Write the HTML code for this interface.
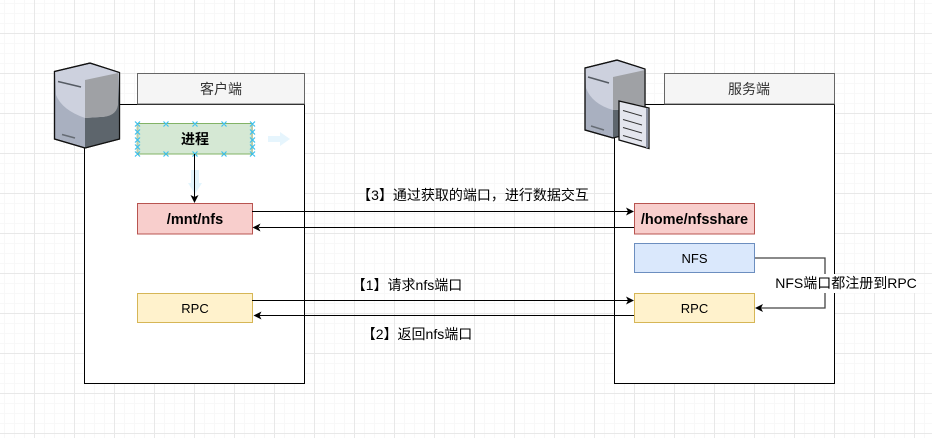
<!DOCTYPE html>
<html><head><meta charset="utf-8">
<style>
html,body{margin:0;padding:0;background:#fff;width:932px;height:438px;overflow:hidden}
svg{display:block}
text{font-family:"Liberation Sans","WenQuanYi Zen Hei","Noto Sans CJK SC",sans-serif;font-size:14px;fill:#000;text-anchor:middle}
.l{font-size:13px}
.b{font-weight:bold;font-size:14.500px}
</style></head><body>
<svg width="932" height="438" viewBox="0 0 932 438" xmlns="http://www.w3.org/2000/svg">
<defs>
<pattern id="minor" width="10" height="10" patternUnits="userSpaceOnUse" x="4" y="3"><path d="M0.500 0V10M0 0.500H10" stroke="#f8f8f8" stroke-width="1" fill="none"/></pattern>
<pattern id="major" width="40" height="40" patternUnits="userSpaceOnUse" x="34" y="33"><path d="M0.500 0V40M0 0.500H40" stroke="#e8e8e8" stroke-width="1" fill="none"/></pattern>
</defs>
<rect width="932" height="438" fill="#fff"/>
<rect width="932" height="438" fill="url(#minor)"/>
<rect width="932" height="438" fill="url(#major)"/>

<!-- containers -->
<rect x="84.500" y="104.500" width="220" height="279" fill="#fff" stroke="#000"/>
<rect x="137.500" y="73.500" width="167" height="30.500" fill="#f5f5f5" stroke="#666"/>
<text x="221" y="94" style="fill:#333">客户端</text>
<rect x="614.500" y="104.500" width="220" height="279" fill="#fff" stroke="#000"/>
<rect x="664.500" y="73.500" width="170" height="30.500" fill="#f5f5f5" stroke="#666"/>
<text x="749" y="94" style="fill:#333">服务端</text>

<!-- client server icon -->
<g>
<path d="M54.500 71.500L90 63L119.500 72.500V139L85 148L54.500 139Z" fill="#a9b0c0" stroke="#111" stroke-width="1.200"/>
<path d="M85 80L119 72.500V139L85 148Z" fill="#5d656c"/>
<path d="M55 72L90 64L119 72.500L118 100Q116 117 100 117L85 118Q62 110 56 95Z" fill="#cdd1de"/>
<path d="M85 80L118 73L118 105Q116 117 100 117L85 118Z" fill="#9fa1a5"/>
<path d="M54.500 71.500L90 63L119.500 72.500V139L85 148L54.500 139Z" fill="none" stroke="#111" stroke-width="1.200"/>
<path d="M58 81.500L81 87" stroke="#555b63" stroke-width="1.500"/>
<path d="M62 134.500L75 138" stroke="#666c74" stroke-width="1.500"/>
</g>

<!-- server icon -->
<g>
<path d="M585 68L617 60L645 69V120L613 138L585 130Z" fill="#a9b0c0" stroke="#111" stroke-width="1.200"/>
<path d="M613 77L645 69V130L613 138Z" fill="#5d656c"/>
<path d="M585.500 68.500L617 61L645 69.500V109L613 110Q592 104 586 88Z" fill="#cdd1de"/>
<path d="M613 77L645 70V109L613 110Z" fill="#9fa1a5"/>
<path d="M585 68L617 60L645 69V130L613 138L585 130Z" fill="none" stroke="#111" stroke-width="1.200"/>
<path d="M588 77L609 83" stroke="#555b63" stroke-width="1.500"/>
<path d="M591 126L604 130" stroke="#666c74" stroke-width="1.500"/>
<path d="M619 101L649 108V148.500L619 140Z" fill="#e4e6ee" stroke="#111" stroke-width="1.300"/>
<path d="M647 108V148" stroke="#8a90a0" stroke-width="2"/>
<path d="M623 110.500L642 116M623 119.500L642 125M623 127.500L642 133M623 135.500L642 141" stroke="#333" stroke-width="1"/>
</g>

<!-- ghost arrows -->
<path d="M268 136H280V132L290 139L280 146V142H268Z" fill="#e6f5fd"/>
<path d="M191 170H199V183H202L195 194L188 183H191Z" fill="#e3f5fd"/>

<!-- process box -->
<rect x="137.500" y="123.500" width="115" height="30.500" fill="#d5e8d4" stroke="#82b366"/>
<path d="M137.500 124V153M252 124V153" stroke="#b8ccaa" stroke-width="2"/>
<text x="195" y="144" style="font-weight:bold">进程</text>
<g stroke="#3cc0ee" stroke-width="1.200" fill="none">
<path d="M135 121.500l5 5m0-5l-5 5M163.500 121.500l5 5m0-5l-5 5M192.500 121.500l5 5m0-5l-5 5M221.500 121.500l5 5m0-5l-5 5M250 121.500l5 5m0-5l-5 5"/>
<path d="M135 151.500l5 5m0-5l-5 5M163.500 151.500l5 5m0-5l-5 5M192.500 151.500l5 5m0-5l-5 5M221.500 151.500l5 5m0-5l-5 5M250 151.500l5 5m0-5l-5 5"/>
<path d="M135 129.500l5 5m0-5l-5 5M135 137.500l5 5m0-5l-5 5M135 144.500l5 5m0-5l-5 5M250 129.500l5 5m0-5l-5 5M250 137.500l5 5m0-5l-5 5M250 144.500l5 5m0-5l-5 5"/>
</g>

<!-- boxes -->
<rect x="137.500" y="203.500" width="115" height="30.500" fill="#f8cecc" stroke="#b85450"/>
<text class="b" x="195" y="224">/mnt/nfs</text>
<rect x="634.500" y="203.500" width="120" height="30.500" fill="#f8cecc" stroke="#b85450"/>
<text class="b" x="694.500" y="224">/home/nfsshare</text>
<rect x="634.500" y="243.500" width="120" height="29" fill="#dae8fc" stroke="#6c8ebf"/>
<text class="l" x="694.500" y="263">NFS</text>
<rect x="137.500" y="293.500" width="115" height="29" fill="#fff2cc" stroke="#d6b656"/>
<text class="l" x="195" y="313">RPC</text>
<rect x="634.500" y="293.500" width="120" height="29" fill="#fff2cc" stroke="#d6b656"/>
<text class="l" x="694.500" y="313">RPC</text>

<!-- connectors -->
<g stroke="#000" stroke-width="1" fill="none">
<path d="M194.500 154V197"/>
<path d="M252 211.500H628"/>
<path d="M634 227.500H259"/>
<path d="M252 300.500H628"/>
<path d="M634 315.500H259"/>
</g>
<path d="M755 258H825V308H761" stroke="#444" stroke-width="1.300" fill="none"/>
<g fill="#000">
<path d="M194.500 203L190.500 195L194.500 197L198.500 195Z"/>
<path d="M634 211.500L626 207.500L628 211.500L626 215.500Z"/>
<path d="M252.500 227.500L260.500 223.500L258.500 227.500L260.500 231.500Z"/>
<path d="M634 300.500L626 296.500L628 300.500L626 304.500Z"/>
<path d="M253.500 315.500L261.500 311.500L259.500 315.500L261.500 319.500Z"/>
<path d="M755 308L763 304L761 308L763 312Z"/>
</g>

<!-- labels -->
<rect x="775" y="274" width="142" height="19" fill="#fff"/>
<text x="846" y="288">NFS端口都注册到RPC</text>
<text x="473" y="200">【3】通过获取的端口，进行数据交互</text>
<text x="407" y="290">【1】请求nfs端口</text>
<text x="417" y="339">【2】返回nfs端口</text>
</svg>
</body></html>
